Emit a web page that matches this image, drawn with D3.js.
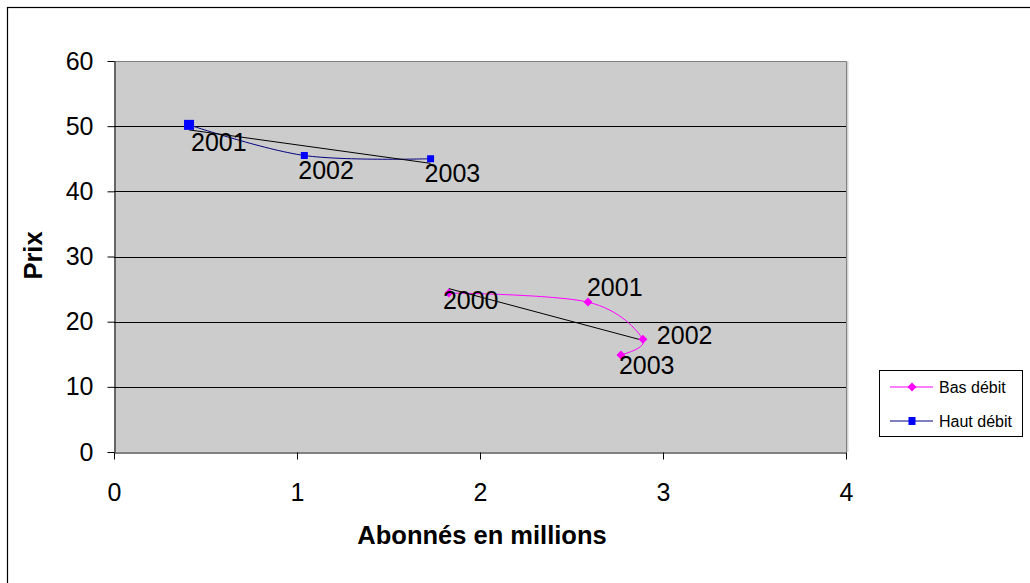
<!DOCTYPE html>
<html>
<head>
<meta charset="utf-8">
<script src="https://cdn.jsdelivr.net/npm/d3@7"></script>
<style>
  html, body { margin: 0; padding: 0; background: #ffffff; }
  svg { display: block; font-family: "Liberation Sans", Arial, sans-serif; }
</style>
</head>
<body>
<svg id="chart" width="1030" height="583"></svg>
<script>
// Subscribers (millions) vs. price, by year
const basYears = ["2000", "2001", "2002", "2003"];
const basAbonnes = [1.83, 2.59, 2.89, 2.77];
const basPrix = [24.4, 23.0, 17.3, 14.9];

const hautYears = ["2001", "2002", "2003"];
const hautAbonnes = [0.41, 1.04, 1.73];
const hautPrix = [50.2, 45.5, 45.0];

const xTicks = [0, 1, 2, 3, 4];
const yTicks = [0, 10, 20, 30, 40, 50, 60];
const seriesNames = ["Bas débit", "Haut débit"];

// Year label placement relative to each point: [dx, dy] in pixels
const basLabelOffset = [[-6, 16], [-1, -6], [14, 5], [-2, 19]];
const hautLabelOffset = [[2, 26], [-6, 24], [-6, 23]];

const svg = d3.select("#chart");
const plot = { left: 114, right: 846, top: 61, bottom: 452 };

const x = d3.scaleLinear().domain([0, 4]).range([plot.left, plot.right]);
const y = d3.scaleLinear().domain([0, 60]).range([plot.bottom, plot.top]);

// Outer chart frame (runs off the right and bottom edges)
svg.append("rect")
  .attr("x", 7.5).attr("y", 7.5)
  .attr("width", 1040).attr("height", 600)
  .attr("fill", "#ffffff").attr("stroke", "#000000").attr("stroke-width", 1.2);

// Plot area
svg.append("rect")
  .attr("x", plot.left).attr("y", plot.top)
  .attr("width", plot.right - plot.left).attr("height", plot.bottom - plot.top)
  .attr("fill", "#cccccc");
svg.append("line")
  .attr("x1", plot.right + 1.5).attr("x2", plot.right + 1.5)
  .attr("y1", plot.top).attr("y2", plot.bottom)
  .attr("stroke", "#d4d4d4").attr("stroke-width", 2);
svg.append("path")
  .attr("d", `M${plot.left},${plot.top + 0.5}H${plot.right + 0.5}V${plot.bottom}`)
  .attr("fill", "none").attr("stroke", "#808080").attr("stroke-width", 1);

// Horizontal gridlines
svg.append("g").selectAll("line")
  .data(yTicks.filter(d => d > 0 && d < 60))
  .join("line")
  .attr("x1", plot.left).attr("x2", plot.right)
  .attr("y1", d => Math.round(y(d)) + 0.5).attr("y2", d => Math.round(y(d)) + 0.5)
  .attr("stroke", "#000000").attr("stroke-width", 1);

// Axes
const xAxis = svg.append("g")
  .attr("transform", `translate(0,${plot.bottom + 0.5})`)
  .call(d3.axisBottom(x).tickValues(xTicks).tickFormat(d3.format("d"))
    .tickSizeInner(7).tickSizeOuter(0).tickPadding(24));
xAxis.select(".domain").attr("stroke", "#000000");
xAxis.selectAll(".tick line").attr("stroke", "#000000");
xAxis.selectAll("text").attr("font-size", 25).attr("fill", "#000000")
  .attr("font-family", "'Liberation Sans', Arial, sans-serif");

const yAxis = svg.append("g")
  .attr("transform", `translate(${plot.left + 0.5},0)`)
  .call(d3.axisLeft(y).tickValues(yTicks).tickFormat(d3.format("d"))
    .tickSizeInner(7).tickSizeOuter(0).tickPadding(14));
yAxis.select(".domain").attr("stroke", "#000000");
yAxis.selectAll(".tick line").attr("stroke", "#000000");
yAxis.selectAll("text").attr("font-size", 25).attr("fill", "#000000")
  .attr("font-family", "'Liberation Sans', Arial, sans-serif");

// Axis titles
svg.append("text")
  .attr("x", (plot.left + plot.right) / 2 + 2).attr("y", 544)
  .attr("text-anchor", "middle").attr("font-size", 25.5).attr("font-weight", "bold")
  .text("Abonnés en millions");
svg.append("text")
  .attr("transform", `translate(42,${(plot.top + plot.bottom) / 2 - 1}) rotate(-90)`)
  .attr("text-anchor", "middle").attr("font-size", 25.5).attr("font-weight", "bold")
  .text("Prix");

// Least-squares trend line over the series' x range
function trend(xs, ys) {
  const mx = d3.mean(xs), my = d3.mean(ys);
  const sxy = d3.sum(xs, (v, i) => (v - mx) * (ys[i] - my));
  const sxx = d3.sum(xs, v => (v - mx) * (v - mx));
  const slope = sxy / sxx, icpt = my - slope * mx;
  const [x0, x1] = d3.extent(xs);
  return [[x0, icpt + slope * x0], [x1, icpt + slope * x1]];
}

const smooth = d3.line().x(d => x(d[0])).y(d => y(d[1])).curve(d3.curveCardinal.tension(0));
const straight = d3.line().x(d => x(d[0])).y(d => y(d[1]));

const basPts = basAbonnes.map((v, i) => [v, basPrix[i]]);
const hautPts = hautAbonnes.map((v, i) => [v, hautPrix[i]]);

const basColor = "#ff00ff";
const hautLine = "#000080";
const hautMarker = "#0000ff";

// Series lines
svg.append("path").attr("d", smooth(basPts))
  .attr("fill", "none").attr("stroke", basColor).attr("stroke-width", 1);
svg.append("path").attr("d", smooth(hautPts))
  .attr("fill", "none").attr("stroke", hautLine).attr("stroke-width", 1);

// Trend lines
svg.append("path").attr("d", straight(trend(basAbonnes, basPrix)))
  .attr("fill", "none").attr("stroke", "#000000").attr("stroke-width", 1);
svg.append("path").attr("d", straight(trend(hautAbonnes, hautPrix)))
  .attr("fill", "none").attr("stroke", "#000000").attr("stroke-width", 1);

// Markers
const diamond = s => `M0,${-s}L${s},0L0,${s}L${-s},0Z`;
svg.append("g").selectAll("path").data(basPts).join("path")
  .attr("transform", d => `translate(${x(d[0])},${y(d[1])})`)
  .attr("d", diamond(4.5)).attr("fill", basColor);
svg.append("g").selectAll("rect").data(hautPts).join("rect")
  .attr("x", (d, i) => x(d[0]) - (i === 0 ? 5 : 3.5))
  .attr("y", (d, i) => y(d[1]) - (i === 0 ? 5 : 3.5))
  .attr("width", (d, i) => i === 0 ? 10 : 7)
  .attr("height", (d, i) => i === 0 ? 10 : 7)
  .attr("fill", hautMarker);

// Year labels
svg.append("g").selectAll("text").data(basPts).join("text")
  .attr("x", (d, i) => x(d[0]) + basLabelOffset[i][0])
  .attr("y", (d, i) => y(d[1]) + basLabelOffset[i][1])
  .attr("font-size", 25).text((d, i) => basYears[i]);
svg.append("g").selectAll("text").data(hautPts).join("text")
  .attr("x", (d, i) => x(d[0]) + hautLabelOffset[i][0])
  .attr("y", (d, i) => y(d[1]) + hautLabelOffset[i][1])
  .attr("font-size", 25).text((d, i) => hautYears[i]);

// Legend
const legend = svg.append("g");
legend.append("rect")
  .attr("x", 879.5).attr("y", 370.5).attr("width", 143).attr("height", 66)
  .attr("fill", "#ffffff").attr("stroke", "#000000").attr("stroke-width", 1);
const legendRows = legend.selectAll("g").data(seriesNames).join("g")
  .attr("transform", (d, i) => `translate(0,${i === 0 ? 387 : 421})`);
legendRows.append("line")
  .attr("x1", 890).attr("x2", 933).attr("y1", 0).attr("y2", 0)
  .attr("stroke", (d, i) => i === 0 ? basColor : hautLine).attr("stroke-width", 1);
legendRows.filter((d, i) => i === 0).append("path")
  .attr("transform", "translate(912,0)").attr("d", diamond(4.5)).attr("fill", basColor);
legendRows.filter((d, i) => i === 1).append("rect")
  .attr("x", 908.5).attr("y", -4).attr("width", 7).attr("height", 8).attr("fill", hautMarker);
legendRows.append("text")
  .attr("x", 939).attr("y", 5.5).attr("font-size", 16).text(d => d);
</script>
</body>
</html>
